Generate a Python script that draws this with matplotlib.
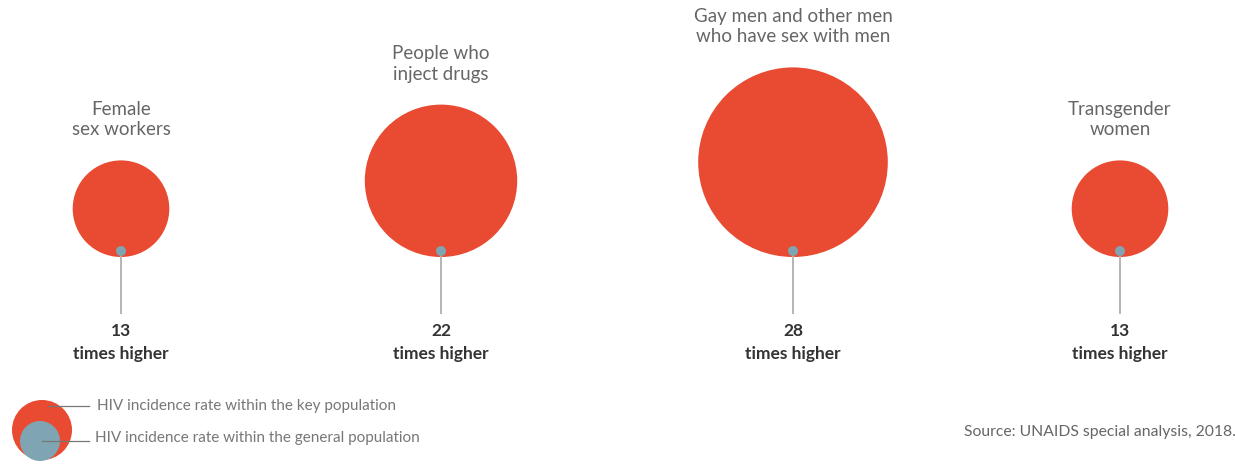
import matplotlib
matplotlib.use("Agg")
import matplotlib.pyplot as plt
from matplotlib.patches import Circle

# HIV incidence relative to the general population, by key population
groups = ["Female\nsex workers", "People who\ninject drugs",
          "Gay men and other men\nwho have sex with men", "Transgender\nwomen"]
times_higher = [13, 22, 28, 13]
centres_x = [121, 441, 793, 1120]

RED = "#e84b31"
BLUE = "#7fa5b3"
LINE = "#b5b5b5"
plt.rcParams["font.family"] = ["Lato", "DejaVu Sans"]

fig = plt.figure(figsize=(12.35, 4.67), dpi=100)
ax = fig.add_axes([0, 0, 1, 1])
ax.set_xlim(0, 1235)
ax.set_ylim(467, 0)
ax.set_aspect("equal")
ax.axis("off")

base_y = 257  # all circles sit on this line
for label, val, cx in zip(groups, times_higher, centres_x):
    r = 8 + 3.1 * val
    ax.add_patch(Circle((cx, base_y - r), r, color=RED, lw=0))
    ax.plot([cx, cx], [base_y - 6, 313], color=LINE, lw=1.4, zorder=3)
    ax.add_patch(Circle((cx, base_y - 6), 5, color=BLUE, lw=0, zorder=4))
    ax.text(cx, base_y - 2 * r - 22, label, ha="center", va="bottom",
            fontsize=13.5, color="#666666", linespacing=1.25)
    ax.text(cx, 331, str(val), ha="center", va="center", fontsize=12.5,
            fontweight="bold", color="#333333")
    ax.text(cx, 354, "times higher", ha="center", va="center", fontsize=12.5,
            fontweight="bold", color="#333333")

# key
ax.add_patch(Circle((42, 430), 30, color=RED, lw=0))
ax.add_patch(Circle((40, 441), 20, color=BLUE, lw=0))
ax.plot([48, 89], [406, 406], color="#777777", lw=0.9)
ax.plot([42, 89], [441, 441], color="#777777", lw=0.9)
ax.text(97, 406, "HIV incidence rate within the key population",
        va="center", fontsize=11, color="#777777")
ax.text(95, 438, "HIV incidence rate within the general population",
        va="center", fontsize=11, color="#777777")

ax.text(1236, 432, "Source: UNAIDS special analysis, 2018.", ha="right",
        va="center", fontsize=11.3, color="#666666")

fig.savefig("out.png", dpi=100, facecolor="white")
